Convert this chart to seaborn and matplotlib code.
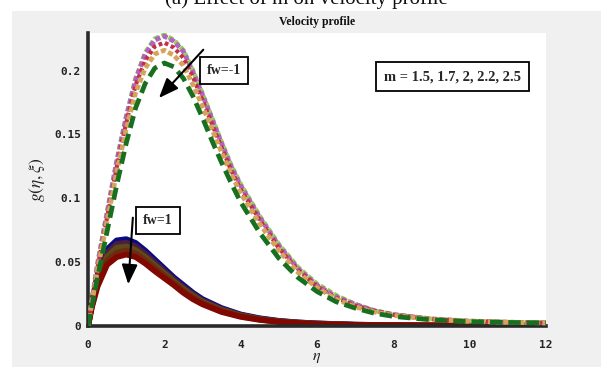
import numpy as np
import pandas as pd
import seaborn as sns
import matplotlib
matplotlib.use("Agg")
import matplotlib.pyplot as plt
from matplotlib.patches import Rectangle

sns.set_theme(style="white")
plt.rcParams["mathtext.fontset"] = "stix"

# similarity variable grids
eta_up = [0, 0.25, 0.5, 0.75, 1.0, 1.25, 1.5, 1.75, 2.0, 2.25, 2.5, 2.75, 3.0, 3.25,
          3.5, 3.75, 4.0, 4.5, 5.0, 5.5, 6.0, 6.5, 7.0, 7.5, 8.0, 9, 10, 11, 12]
eta_lo = [0, 0.1, 0.25, 0.5, 0.75, 1.0, 1.25, 1.5, 1.75, 2.0, 2.25, 2.5, 2.75, 3.0,
          3.5, 4.0, 4.5, 5, 5.5, 6, 7, 8, 9, 10, 11, 12]

m_values = ["1.5", "1.7", "2", "2.2", "2.5"]

# fw = -1 (suction), one profile per m
g_fwm1_m15 = [0, .049, .089, .129, .164, .194, .214, .225, .228, .224, .216, .200, .182, .163,
              .144, .126, .111, .086, .064, .046, .033, .024, .017, .012, .009, .0056, .0039, .003, .0025]
g_fwm1_m17 = [0, .048, .088, .128, .163, .193, .213, .224, .227, .223, .215, .199, .181, .162,
              .143, .125, .110, .085, .063, .045, .032, .023, .017, .012, .009, .0055, .0038, .003, .0025]
g_fwm1_m2 = [0, .046, .085, .124, .159, .189, .208, .219, .222, .218, .210, .195, .177, .158,
             .140, .122, .107, .083, .061, .044, .031, .022, .016, .012, .0087, .0054, .0037, .003, .0025]
g_fwm1_m22 = [0, .044, .082, .120, .154, .183, .202, .213, .216, .212, .204, .189, .172, .154,
              .136, .119, .104, .080, .059, .042, .030, .021, .015, .011, .0083, .0052, .0036, .0029, .0024]
g_fwm1_m25 = [0, .038, .074, .110, .143, .171, .190, .202, .206, .203, .194, .180, .163, .145,
              .128, .112, .097, .073, .053, .038, .027, .019, .014, .010, .0075, .0048, .0034, .0028, .0024]

# fw = 1 (injection), one profile per m
g_fw1_m15 = [0, .018, .040, .060, .067, .068, .065, .059, .052, .045, .038, .032, .026, .021,
             .014, .009, .006, .004, .0028, .002, .001, .0006, .0004, .0003, .0002, .0002]
g_fw1_m17 = [0, .0172, .0378, .0572, .0642, .0652, .0623, .0565, .0498, .0431, .0365, .0305, .0249, .0200,
             .0133, .0086, .0057, .0038, .0027, .0019, .0010, .0006, .0004, .0003, .0002, .0002]
g_fw1_m2 = [0, .0163, .0356, .0543, .0613, .0623, .0595, .0540, .0476, .0413, .0350, .0290, .0238, .0190,
            .0126, .0082, .0054, .0036, .0025, .0018, .0009, .0005, .0003, .0002, .0002, .0001]
g_fw1_m22 = [0, .0154, .0334, .0512, .0573, .0591, .0566, .0515, .0453, .0393, .0335, .0275, .0224, .0180,
             .0118, .0077, .0051, .0034, .0023, .0016, .0008, .0005, .0003, .0002, .0002, .0001]
g_fw1_m25 = [0, .0145, .031, .048, .054, .056, .054, .049, .043, .0375, .032, .026, .021, .017,
             .011, .0072, .0048, .0032, .0022, .0015, .0008, .0005, .0003, .0002, .0002, .0001]

W, H = 604, 367
fig = plt.figure(figsize=(W / 100, H / 100), dpi=100, facecolor="white")

# grey panel behind the axes
fig.patches.append(Rectangle((12 / W, 0), (601 - 12) / W, 1 - 11 / H, transform=fig.transFigure,
                             facecolor="#f0f0f0", edgecolor="none", zorder=-10))
fig.text(306 / W, 1 - 4 / H, "(a) Effect of m on velocity profile", ha="center", va="baseline",
         fontsize=15, family="Liberation Serif", color="#111111", zorder=1)

ax = fig.add_axes([88 / W, 1 - 326 / H, (546 - 88) / W, (326 - 33) / H])
ax.set_facecolor("white")

up_frame = pd.DataFrame({"eta": eta_up, "1.5": g_fwm1_m15, "1.7": g_fwm1_m17, "2": g_fwm1_m2,
                         "2.2": g_fwm1_m22, "2.5": g_fwm1_m25})
lo_frame = pd.DataFrame({"eta": eta_lo, "1.5": g_fw1_m15, "1.7": g_fw1_m17, "2": g_fw1_m2,
                         "2.2": g_fw1_m22, "2.5": g_fw1_m25})

# fw = 1: thick solid lines
lo_colors = ["#0a0a85", "#4a1c40", "#5c4a1a", "#702a10", "#800800"]
for m, c in zip(m_values, lo_colors):
    sns.lineplot(data=lo_frame, x="eta", y=m, ax=ax, color=c, lw=4.2, sort=False,
                 solid_capstyle="butt", solid_joinstyle="round", zorder=2)

# fw = -1: dashed / dotted lines
up_styles = [
    ("1.5", "#8fd14f", (0, (1.1, 0.55)), 3.4),
    ("1.7", "#b063bf", (0, (1.1, 0.55)), 3.4),
    ("2", "#c0304a", (0, (0.9, 0.7)), 3.0),
    ("2.2", "#d6a35a", (0, (1.1, 0.55)), 3.4),
    ("2.5", "#17701f", (0, (2.6, 1.3)), 3.4),
]
for m, c, ls, lw in up_styles:
    sns.lineplot(data=up_frame, x="eta", y=m, ax=ax, color=c, lw=lw, linestyle=ls, sort=False, zorder=3)

ax.set_xlim(0, 12)
ax.set_ylim(0, 0.2295)
ax.set_xticks([0, 2, 4, 6, 8, 10, 12])
ax.set_xticklabels(["0", "2", "4", "6", "8", "10", "12"])
ax.set_yticks([0, 0.05, 0.1, 0.15, 0.2])
ax.set_yticklabels(["0", "0.05", "0.1", "0.15", "0.2"])

for side in ["top", "right"]:
    ax.spines[side].set_visible(False)
for side in ["left", "bottom"]:
    ax.spines[side].set_color("#2a2a2a")
    ax.spines[side].set_linewidth(2.6)
ax.tick_params(direction="in", length=4, width=2, color="#2a2a2a",
               labelsize=8, labelcolor="#222222")
ax.tick_params(axis="x", pad=10)
ax.tick_params(axis="y", pad=5)
for lab in ax.get_xticklabels() + ax.get_yticklabels():
    lab.set_family("DejaVu Sans Mono")
    lab.set_fontweight("bold")

ax.set_xlabel(r"$\eta$", fontsize=11.5, labelpad=0, color="#222222")
ax.set_ylabel(r"$g(\eta,\xi)$", fontsize=12.5, labelpad=5, color="#222222")
ax.set_title("Velocity profile", fontsize=8.5, fontweight="bold", family="Liberation Serif",
             pad=6, color="#111111")

# annotation for fw = -1
ax.annotate("", xy=(1.81, 0.177), xytext=(3.07, 0.218),
            arrowprops=dict(arrowstyle="-|>,head_length=1.0,head_width=0.4", color="black", lw=1.5),
            zorder=5)
ax.text(3.56, 0.2, "fw=-1", ha="center", va="center", fontsize=10, fontweight="bold",
        family="Liberation Serif", zorder=6,
        bbox=dict(boxstyle="square,pad=0.5", facecolor="white", edgecolor="black", lw=1.3))

# annotation for fw = 1
ax.text(1.83, 0.0825, "fw=1", ha="center", va="center", fontsize=10, fontweight="bold",
        family="Liberation Serif", zorder=6,
        bbox=dict(boxstyle="square,pad=0.5", facecolor="white", edgecolor="black", lw=1.3))
ax.annotate("", xy=(1.05, 0.0305), xytext=(1.18, 0.087),
            arrowprops=dict(arrowstyle="-|>,head_length=1.0,head_width=0.4", color="black", lw=1.5),
            zorder=7)

# parameter box
ax.text(9.54, 0.1954, "m = " + ", ".join(m_values), ha="center", va="center", fontsize=10.5,
        fontweight="bold", family="Liberation Serif", zorder=6,
        bbox=dict(boxstyle="square,pad=0.55", facecolor="white", edgecolor="black", lw=1.3))

fig.savefig("out.png", dpi=100, facecolor="white")
